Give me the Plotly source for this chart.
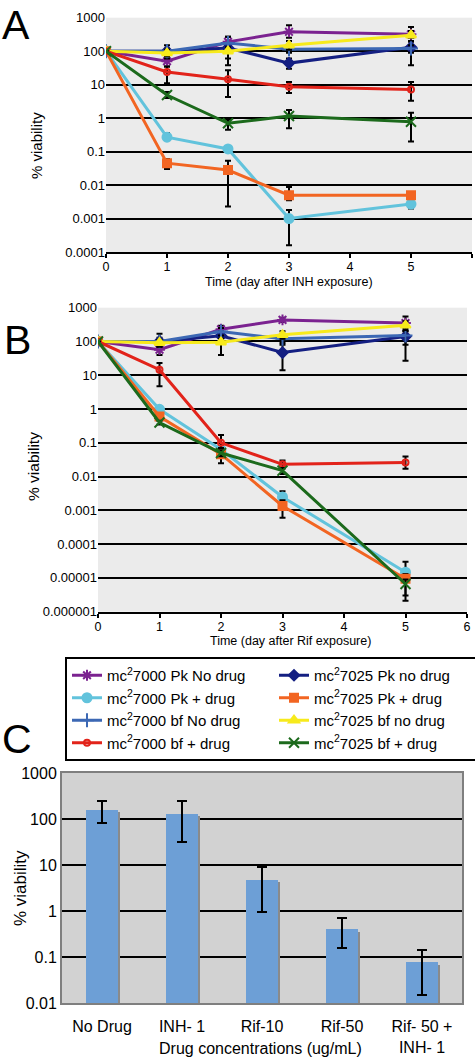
import plotly.graph_objects as go

# ---------------- data ----------------
days = [0, 1, 2, 3, 5]

# Panel A (INH exposure)
a_pk7000_nodrug = [100, 50, 190, 380, 320]
a_pk7000_drug = [100, 0.27, 0.12, 0.001, 0.0027]
a_bf7000_nodrug = [100, 100, 175, 115, 120]
a_bf7000_drug = [100, 24, 14.5, 8.6, 7.2]
a_pk7025_nodrug = [100, 100, 125, 44, 130]
a_pk7025_drug = [100, 0.045, 0.028, 0.005, 0.005]
a_bf7025_nodrug = [100, 88, 100, 150, 300]
a_bf7025_drug = [100, 4.9, 0.7, 1.15, 0.78]

# error bar bounds (high, low) panel A
a_pk7000_nodrug_hi = [100, 70, 270, 600, 530]
a_pk7000_nodrug_lo = [100, 35, 130, 250, 200]
a_pk7000_drug_hi = [100, 0.35, 0.13, 0.0018, 0.0035]
a_pk7000_drug_lo = [100, 0.22, 0.11, 0.00016, 0.002]
a_bf7000_nodrug_hi = [100, 150, 270, 140, 150]
a_bf7000_nodrug_lo = [100, 60, 120, 90, 90]
a_bf7000_drug_hi = [100, 35, 27, 12, 12]
a_bf7000_drug_lo = [100, 11, 4.3, 5.6, 3.3]
a_pk7025_nodrug_hi = [100, 120, 150, 60, 190]
a_pk7025_nodrug_lo = [100, 80, 38, 30, 38]
a_pk7025_drug_hi = [100, 0.06, 0.053, 0.0088, 0.0055]
a_pk7025_drug_lo = [100, 0.03, 0.0023, 0.0035, 0.0045]
a_bf7025_nodrug_hi = [100, 110, 130, 200, 400]
a_bf7025_nodrug_lo = [100, 70, 60, 110, 250]
a_bf7025_drug_hi = [100, 6, 0.9, 1.75, 1.44]
a_bf7025_drug_lo = [100, 4, 0.45, 0.5, 0.2]

# Panel B (Rif exposure)
b_pk7000_nodrug = [100, 57, 230, 435, 350]
b_pk7000_drug = [100, 0.98, 0.063, 0.0025, 0.0000148]
b_bf7000_nodrug = [100, 100, 197, 120, 150]
b_bf7000_drug = [100, 14.6, 0.1, 0.023, 0.026]
b_pk7025_nodrug = [100, 100, 147, 47, 140]
b_pk7025_drug = [100, 0.6, 0.046, 0.00135, 0.0000095]
b_bf7025_nodrug = [100, 92, 95, 158, 300]
b_bf7025_drug = [100, 0.4, 0.05, 0.015, 0.0000066]

b_pk7000_nodrug_hi = [100, 75, 290, 500, 550]
b_pk7000_nodrug_lo = [100, 40, 170, 380, 250]
b_pk7000_drug_hi = [100, 1.1, 0.07, 0.0037, 0.00003]
b_pk7000_drug_lo = [100, 0.9, 0.055, 0.0018, 0.000009]
b_bf7000_nodrug_hi = [100, 170, 250, 150, 200]
b_bf7000_nodrug_lo = [100, 70, 150, 90, 80]
b_bf7000_drug_hi = [100, 23, 0.17, 0.03, 0.039]
b_bf7000_drug_lo = [100, 4.7, 0.07, 0.017, 0.017]
b_pk7025_nodrug_hi = [100, 130, 200, 80, 200]
b_pk7025_nodrug_lo = [100, 80, 100, 14, 27]
b_pk7025_drug_hi = [100, 0.7, 0.055, 0.002, 0.000013]
b_pk7025_drug_lo = [100, 0.5, 0.025, 0.0006, 0.000003]
b_bf7025_nodrug_hi = [100, 110, 120, 200, 400]
b_bf7025_nodrug_lo = [100, 70, 40, 120, 220]
b_bf7025_drug_hi = [100, 0.45, 0.06, 0.018, 0.000009]
b_bf7025_drug_lo = [100, 0.35, 0.04, 0.012, 0.0000021]

series_names = [
    "mc<sup>2</sup>7000 Pk No drug",
    "mc<sup>2</sup>7000 Pk + drug",
    "mc<sup>2</sup>7000 bf No drug",
    "mc<sup>2</sup>7000 bf + drug",
    "mc<sup>2</sup>7025 Pk no drug",
    "mc<sup>2</sup>7025 Pk + drug",
    "mc<sup>2</sup>7025 bf no drug",
    "mc<sup>2</sup>7025 bf + drug",
]

# Panel C
drug_categories = ["No Drug", "INH- 1", "Rif-10", "Rif-50", "Rif- 50 +<br>INH- 1"]
drug_viability = [160, 130, 4.8, 0.4, 0.078]
drug_err_hi = [250, 250, 9, 0.7, 0.14]
drug_err_lo = [82, 31, 0.95, 0.16, 0.015]

tick_vals_ab = [0.000001, 0.00001, 0.0001, 0.001, 0.01, 0.1, 1, 10, 100, 1000]
tick_text_ab = ["0.000001", "0.00001", "0.0001", "0.001", "0.01", "0.1", "1", "10", "100", "1000"]
tick_vals_c = [0.01, 0.1, 1, 10, 100, 1000]
tick_text_c = ["0.01", "0.1", "1", "10", "100", "1000"]

# ---------------- styles ----------------
colors = ["#7b2290", "#62c3dc", "#3c68b4", "#e2231a",
          "#141f82", "#f26522", "#f7ea1c", "#1c6a1c"]
symbols = ["asterisk-open", "circle", "cross-thin-open", "circle-open",
           "diamond", "square", "triangle-up", "x-thin-open"]
msizes = [9, 9, 10, 6, 8, 8, 9, 10]

FONT = "Arial, 'Liberation Sans', sans-serif"
W, H = 475, 1058


def px_x(p):
    return p / W


def px_y(p):
    return 1 - p / H


fig = go.Figure()

a_vals = [a_pk7000_nodrug, a_pk7000_drug, a_bf7000_nodrug, a_bf7000_drug,
          a_pk7025_nodrug, a_pk7025_drug, a_bf7025_nodrug, a_bf7025_drug]
a_hi = [a_pk7000_nodrug_hi, a_pk7000_drug_hi, a_bf7000_nodrug_hi, a_bf7000_drug_hi,
        a_pk7025_nodrug_hi, a_pk7025_drug_hi, a_bf7025_nodrug_hi, a_bf7025_drug_hi]
a_lo = [a_pk7000_nodrug_lo, a_pk7000_drug_lo, a_bf7000_nodrug_lo, a_bf7000_drug_lo,
        a_pk7025_nodrug_lo, a_pk7025_drug_lo, a_bf7025_nodrug_lo, a_bf7025_drug_lo]
b_vals = [b_pk7000_nodrug, b_pk7000_drug, b_bf7000_nodrug, b_bf7000_drug,
          b_pk7025_nodrug, b_pk7025_drug, b_bf7025_nodrug, b_bf7025_drug]
b_hi = [b_pk7000_nodrug_hi, b_pk7000_drug_hi, b_bf7000_nodrug_hi, b_bf7000_drug_hi,
        b_pk7025_nodrug_hi, b_pk7025_drug_hi, b_bf7025_nodrug_hi, b_bf7025_drug_hi]
b_lo = [b_pk7000_nodrug_lo, b_pk7000_drug_lo, b_bf7000_nodrug_lo, b_bf7000_drug_lo,
        b_pk7025_nodrug_lo, b_pk7025_drug_lo, b_bf7025_nodrug_lo, b_bf7025_drug_lo]

# legend order: interleave columns (7000 left, 7025 right)
legend_order = [0, 4, 1, 5, 2, 6, 3, 7]


def add_series(vals, his, los, xa, ya, show):
    for i in legend_order:
        v = vals[i]
        plus = [h - y for h, y in zip(his[i], v)]
        minus = [y - l for l, y in zip(los[i], v)]
        fig.add_trace(go.Scatter(
            x=days, y=v, xaxis=xa, yaxis=ya, mode="lines+markers",
            name=series_names[i], showlegend=show,
            line=dict(color=colors[i], width=3),
            marker=dict(color=colors[i], symbol=symbols[i], size=msizes[i],
                        line=dict(color=colors[i], width=2)),
            error_y=dict(type="data", symmetric=False, array=plus, arrayminus=minus,
                         color="black", thickness=2, width=3),
        ))


add_series(a_vals, a_hi, a_lo, "x", "y", True)
add_series(b_vals, b_hi, b_lo, "x2", "y2", False)

# Panel C bars with shadow
shadow_vals = [v * 0.88 for v in drug_viability]
fig.add_trace(go.Bar(
    x=drug_categories, y=shadow_vals, xaxis="x3", yaxis="y3",
    marker=dict(color="#8a8a8a", line=dict(width=0)), width=0.4, offset=-0.17,
    showlegend=False, hoverinfo="skip"))
fig.add_trace(go.Bar(
    x=drug_categories, y=drug_viability, xaxis="x3", yaxis="y3",
    marker=dict(color="#6d9fd6", line=dict(width=0)), width=0.4, offset=-0.2,
    showlegend=False,
    error_y=dict(type="data", symmetric=False,
                 array=[h - v for h, v in zip(drug_err_hi, drug_viability)],
                 arrayminus=[v - l for l, v in zip(drug_err_lo, drug_viability)],
                 color="black", thickness=2, width=5)))

common_x = dict(range=[0, 6], tickvals=[0, 1, 2, 3, 4, 5, 6], showgrid=False,
                showline=True, linecolor="black", linewidth=2, ticks="outside",
                ticklen=4, tickwidth=2, tickcolor="black", zeroline=False,
                automargin=False, ticklabelstandoff=-2,
                tickfont=dict(family=FONT, size=12.5, color="black"))
common_y = dict(type="log", showgrid=True, gridcolor="black", gridwidth=2,
                tickvals=tick_vals_ab, ticktext=tick_text_ab, showline=False,
                ticks="", zeroline=False, automargin=False,
                tickfont=dict(family=FONT, size=13, color="black"))

fig.update_layout(
    width=W, height=H, margin=dict(l=0, r=0, t=0, b=0, autoexpand=False),
    paper_bgcolor="white", plot_bgcolor="#ebebeb",
    barmode="overlay", bargap=0,
    font=dict(family=FONT, color="black"),
    xaxis=dict(domain=[px_x(106), px_x(472)], anchor="y", **common_x),
    yaxis=dict(domain=[px_y(252), px_y(17.7)], anchor="x", range=[-4, 3], **common_y),
    xaxis2=dict(domain=[px_x(98), px_x(467)], anchor="y2", **common_x),
    yaxis2=dict(domain=[px_y(611.7), px_y(307.7)], anchor="x2", range=[-6, 3], **common_y),
    xaxis3=dict(domain=[px_x(62), px_x(462)], anchor="y3", showgrid=False,
                showline=True, linecolor="#7f7f7f", linewidth=2, mirror=True,
                ticks="", ticklabelstandoff=8, automargin=False,
                tickfont=dict(family=FONT, size=16, color="black")),
    yaxis3=dict(domain=[px_y(1003), px_y(773)], anchor="x3", type="log", range=[-2, 3],
                tickvals=tick_vals_c, ticktext=tick_text_c, showgrid=True,
                gridcolor="black", gridwidth=2, showline=True, linecolor="#7f7f7f",
                linewidth=2, mirror=True, ticks="", zeroline=False, automargin=False,
                tickfont=dict(family=FONT, size=16, color="black")),
    legend=dict(orientation="h", x=px_x(65), y=px_y(657), xanchor="left", yanchor="top",
                bgcolor="white", bordercolor="black", borderwidth=2,
                entrywidth=162, entrywidthmode="pixels",
                font=dict(family=FONT, size=15, color="black"), tracegroupgap=0),
)

# C plot background via shape
fig.add_shape(type="rect", xref="x3 domain", yref="y3 domain", x0=0, x1=1, y0=0, y1=1,
              fillcolor="#d2d2d2", line=dict(width=0), layer="below")

annos = [
    dict(text="A", x=px_x(0), y=px_y(0), font=dict(size=41), xanchor="left", yanchor="top"),
    dict(text="B", x=px_x(2), y=px_y(340), font=dict(size=41), xanchor="left", yanchor="middle"),
    dict(text="C", x=px_x(0), y=px_y(739), font=dict(size=41), xanchor="left", yanchor="middle"),
    dict(text="% viability", x=px_x(37), y=px_y(146), textangle=-90, font=dict(size=15)),
    dict(text="% viability", x=px_x(33), y=px_y(467), textangle=-90, font=dict(size=15.5)),
    dict(text="% viability", x=px_x(20), y=px_y(888), textangle=-90, font=dict(size=17)),
    dict(text="Time (day after INH exposure)", x=px_x(289), y=px_y(282), font=dict(size=12.5)),
    dict(text="Time (day after Rif exposure)", x=px_x(290), y=px_y(641), font=dict(size=12.5)),
    dict(text="Drug concentrations (ug/mL)", x=px_x(260), y=px_y(1048), font=dict(size=16)),
]
for a in annos:
    a.setdefault("xanchor", "center")
    a.setdefault("yanchor", "middle")
    a["font"]["family"] = FONT
    a["font"]["color"] = "black"
    fig.add_annotation(xref="paper", yref="paper", showarrow=False, **a)

fig.write_html("out.html", config={"displayModeBar": False},
               post_script="document.body.style.margin='0';document.body.style.padding='0';")
